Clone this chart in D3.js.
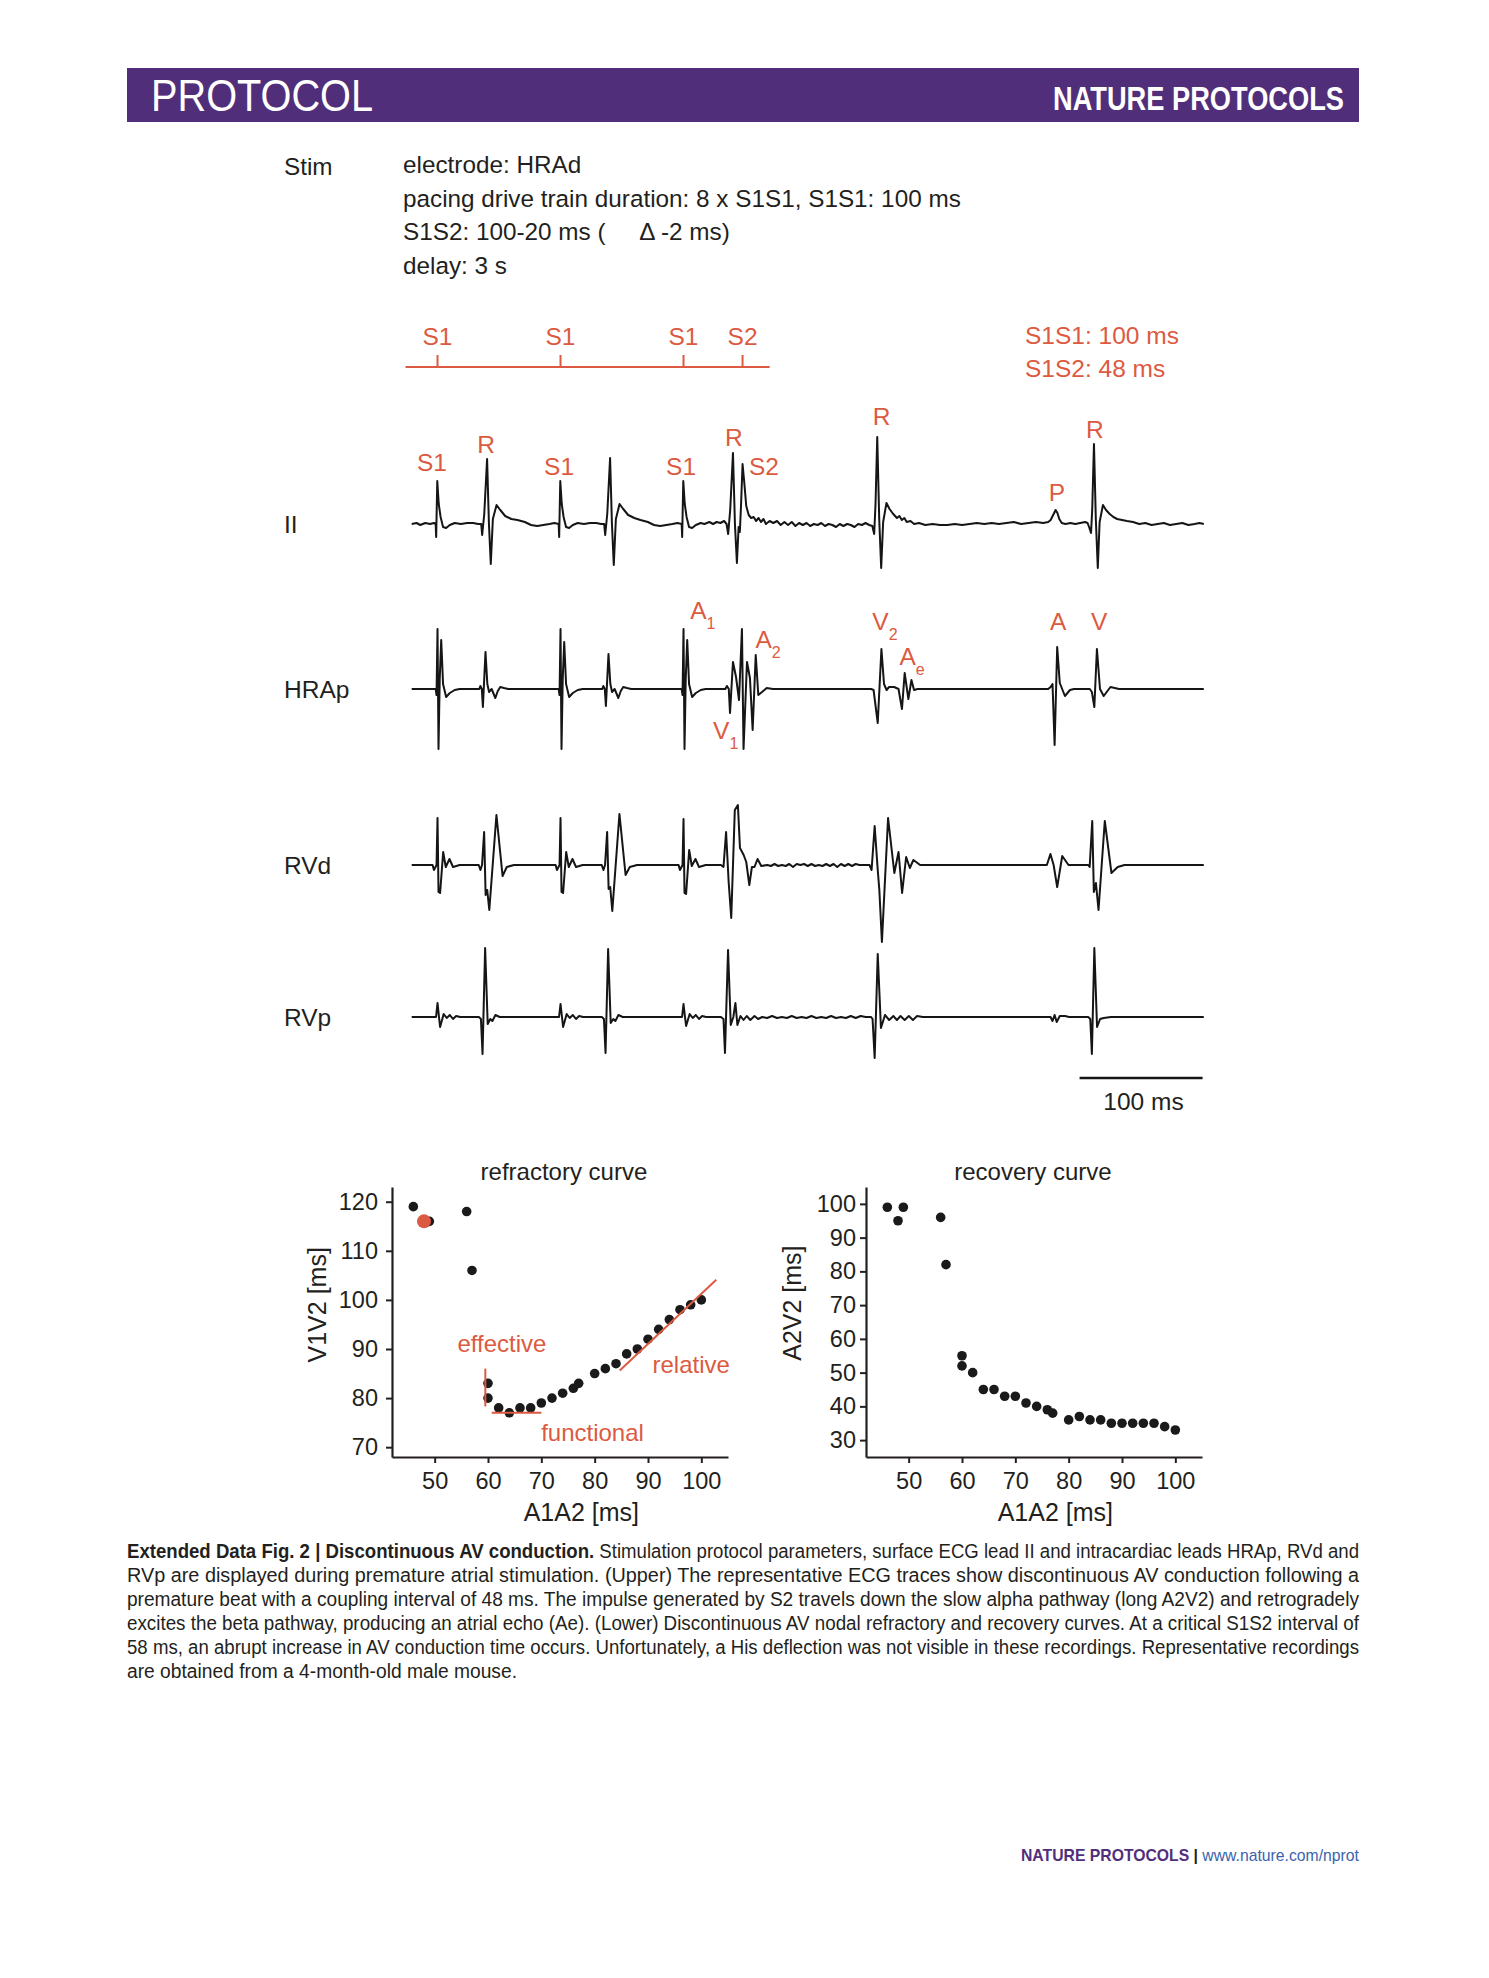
<!DOCTYPE html>
<html>
<head>
<meta charset="utf-8">
<script src="https://cdn.jsdelivr.net/npm/d3@7"></script>
<style>
  body { margin: 0; background: #fff; }
  svg text { font-family: "Liberation Sans", Arial, sans-serif; fill: #231f20; }
</style>
</head>
<body>
<div id="fig"></div>
<script>
// ---------- data ----------
// traces: [time ms, amplitude mV]
var leadII = [
  [3,0.00],[7,0.01],[10,-0.01],[14,0.01],[18,0.00],[21,0.01],[22.5,0.00],[22.9,-0.13],[23.8,0.43],[25,0.20],[26.5,0.07],[28.5,-0.03],[31,-0.04],[34,-0.01],[38,0.01],[43,0.00],[48,0.01],[53,0.01],[57,0.00],
  [59.5,0.00],[60.3,-0.11],[62,0.10],[64.3,0.65],[65.8,0.00],[67.3,-0.40],[69,0.05],[72,0.19],[75,0.14],[79,0.08],[84,0.05],[89,0.04],[95,0.02],[100,-0.01],[105,-0.02],[110,-0.01],[115,0.00],[119,0.01],
  [122.5,0.00],[122.9,-0.13],[123.8,0.43],[125,0.20],[126.5,0.07],[128.5,-0.03],[131,-0.04],[134,-0.01],[138,0.01],[143,0.00],[148,0.01],[153,0.01],[157,0.00],
  [159.5,0.00],[160.3,-0.11],[162,0.10],[164.3,0.66],[165.8,0.00],[167.3,-0.41],[169,0.05],[172,0.20],[175,0.15],[179,0.09],[184,0.06],[189,0.04],[195,0.02],[200,-0.01],[205,-0.02],[210,-0.01],[215,0.00],[219,0.01],
  [222.5,0.00],[222.9,-0.13],[223.8,0.43],[225,0.20],[226.5,0.07],[228.5,-0.03],[231,-0.04],[234,-0.01],[238,0.01],[241,0.00],[245,0.02],[248,0.00],[251,0.02],[254,0.01],[257,0.03],[259,0.00],
  [260.3,-0.10],[262,0.15],[264.2,0.71],[265.8,0.00],[267.4,-0.39],[268.8,-0.03],[269.8,-0.08],[270.8,0.20],[272,0.60],[273.5,0.40],[275,0.18],[277,0.09],[279,0.06],[281,0.07],[283,0.03],[285,0.06],[287,0.02],[289,0.05],
  [291,0.00],[294,0.03],[297,0.01],[300,0.03],[303,-0.01],[306,0.02],[309,-0.01],[312,0.02],[315,-0.02],[318,0.01],[321,-0.01],[324,0.01],[327,-0.02],[330,0.00],[333,-0.01],[336,0.01],[339,-0.02],[342,0.00],
  [345,-0.01],[348,-0.03],[351,0.00],[354,-0.02],[357,0.00],[360,-0.01],[363,-0.03],[366,0.00],[369,-0.01],[372,0.01],[375,-0.01],
  [377.5,-0.02],[379,-0.10],[380.1,0.20],[381.5,0.87],[383.1,0.05],[384.7,-0.44],[386.3,0.02],[389,0.21],[391.5,0.15],[394.5,0.10],[397.5,0.06],[399.5,0.08],[401.5,0.04],[403.5,0.06],[405.5,0.02],[408.5,0.03],[411.5,0.00],[415.5,0.01],
  [420.5,-0.01],[426.5,0.00],[432.5,-0.01],[438.5,-0.01],[444.5,0.00],[450.5,-0.01],[456.5,0.00],[462.5,0.01],[468.5,0.00],[474.5,0.01],[480.5,0.00],[486.5,0.01],[492.5,0.02],[498.5,0.00],[504.5,0.01],[510.5,0.02],[516.5,0.01],[520.5,0.02],
  [522.5,0.04],[524.5,0.09],[526.5,0.14],[528,0.11],[529.5,0.05],[531.5,0.01],[534.5,0.00],[538.5,0.01],[542.5,0.00],[546.5,0.01],[550.5,0.02],[552.5,0.01],
  [554,-0.04],[555.3,-0.09],[556.3,0.15],[557.7,0.80],[559.2,0.05],[560.8,-0.44],[562.3,0.02],[565,0.19],[567.5,0.14],[570.5,0.10],[573.5,0.07],[576.5,0.05],[580.5,0.04],[584.5,0.03],[589.5,0.02],
  [594.5,0.00],[599.5,0.01],[604.5,-0.01],[609.5,0.00],[614.5,0.01],[619.5,-0.01],[624.5,0.00],[629.5,0.01],[634.5,-0.01],[639.5,0.00],[643.5,0.01],[647,0.00]
];

var hrap = [
  [3,0],[22.5,0],[23.2,-0.06],[24,0.60],[24.8,-0.60],[25.8,0.10],[27,0.49],[28.5,0.05],[31,-0.08],[34,-0.04],[38,-0.01],[42,0],
  [58,0],[58.8,0.03],[60,0],[60.9,-0.18],[63,0.37],[64.5,0.05],[65.9,-0.03],[68,0],[71,-0.09],[73,-0.02],[75,0.02],[78,0.01],[81.5,0],
  [122.5,0],[123.2,-0.06],[124,0.60],[124.8,-0.60],[125.8,0.10],[127,0.47],[128.5,0.05],[131,-0.08],[134,-0.04],[138,-0.01],[142,0],
  [158,0],[158.8,0.03],[160,0],[160.9,-0.17],[163,0.35],[164.5,0.05],[165.9,-0.03],[168,0],[171,-0.09],[173,-0.02],[175,0.02],[178,0.01],[181.5,0],
  [222.5,0],[223.2,-0.06],[224,0.60],[224.8,-0.60],[225.8,0.10],[227,0.49],[228.5,0.05],[231,-0.08],[234,-0.04],[238,-0.01],[242,0],
  [258,0],[259.3,0.03],[260.8,0.00],[261.8,-0.24],[264.2,0.27],[266.7,0.12],[269.1,-0.11],[271.5,0.60],[272.8,-0.60],[275.6,0.27],[278,0.11],[280.2,-0.41],[282.7,0.34],[284.8,-0.06],[287.8,-0.03],[291.6,0.01],[296.7,0],
  [376.5,0],[378.5,-0.01],[381.9,-0.34],[384.9,0.40],[387,0.05],[389.1,-0.01],[391.1,0.02],[395.2,0.02],[398.8,0],[401.6,-0.20],[403.8,0.16],[406.8,-0.10],[409.3,0.09],[411.4,-0.01],[414.3,0],
  [520.5,0],[522.4,0.02],[524,0.05],[525.7,-0.56],[527.8,0.42],[529.9,0.06],[534.1,-0.07],[538.2,-0.01],[541.5,0],
  [553,0],[554.3,0],[556,-0.03],[558,-0.18],[560.1,0.40],[562.6,0],[565.6,-0.07],[571.1,0.02],[578.1,0],[647,0]
];

var rvd = [
  [3,0],[20,0],[21.1,-0.05],[23.2,0],[24,0.47],[24.8,-0.27],[26.1,-0.28],[28.6,0.13],[30.7,-0.02],[33.7,0.06],[36.6,-0.02],[42,0],
  [57.5,0],[58.9,-0.05],[60.2,0],[61.9,0.33],[63.1,-0.30],[64.4,-0.25],[66.1,-0.45],[71.9,0.50],[76.9,-0.11],[80.3,-0.02],[86.2,0],
  [120,0],[121.1,-0.05],[123.2,0],[124,0.47],[124.8,-0.27],[126.1,-0.28],[128.6,0.13],[130.7,-0.02],[133.7,0.06],[136.6,-0.02],[142,0],
  [157.5,0],[158.9,-0.05],[160.2,0],[161.9,0.33],[163.1,-0.24],[164.4,-0.22],[166.1,-0.46],[171.9,0.51],[176.9,-0.10],[180.3,-0.02],[186.2,0],
  [220,0],[221.1,-0.05],[223.2,0],[224,0.46],[224.8,-0.28],[226.1,-0.29],[228.6,0.15],[230.7,-0.01],[233.7,0.06],[236.6,-0.02],[242,0],
  [254.4,0],[256.5,-0.02],[258.6,0.33],[260.7,-0.17],[262.8,-0.53],[265.7,0.55],[268.2,0.60],[269.9,0.17],[272.9,0.10],[275,0.03],[277.5,-0.20],[279.6,-0.02],[281.7,-0.02],[284.2,0.06],[287.2,-0.01],[292.2,0],
  [295,-0.01],[298,0.01],[301,-0.01],[304,0.00],[307,-0.01],[310,0.01],[313,-0.02],[316,0.01],[319,0.00],[322,0.01],[325,-0.01],[328,0.01],[331,-0.01],[334,0.00],[337,-0.01],[340,0.01],[343,-0.01],[346,0.01],
  [349,-0.02],[352,0.01],[355,-0.01],[358,0.01],[361,-0.01],[364,0.01],[367,0],[375.2,0],
  [376.9,-0.05],[379.4,0.39],[381.9,-0.05],[383.2,-0.25],[385.3,-0.77],[390.3,0.47],[395.4,-0.08],[398.8,0.13],[401.7,-0.28],[405,0.08],[408,-0.03],[410.9,0.05],[416.4,0],
  [519.4,0],[522.3,0.11],[524.9,0],[527.8,-0.22],[531.9,0.09],[537,0],
  [553,0],[554.2,-0.02],[556.3,0.44],[557.6,-0.27],[559.3,-0.18],[561.4,-0.45],[566.5,0.44],[571.9,-0.08],[577,-0.02],[582.5,0],[647,0]
];

var rvp = [
  [3,0],[22.8,0],[24,0.14],[25.2,0],[26.1,-0.10],[29,0.03],[31.5,-0.01],[34,0.02],[36.6,-0.02],[39.1,0.01],[42.4,0],
  [57.6,0],[59.3,-0.02],[60.6,-0.37],[62.7,0.69],[64.8,-0.07],[66.9,-0.02],[68.6,-0.04],[71.1,0.02],[74.5,0],
  [122.8,0],[124,0.13],[125.2,0],[126.1,-0.10],[129,0.03],[131.5,-0.01],[134,0.02],[136.6,-0.02],[139.1,0.01],[142.4,0],
  [157.6,0],[159.3,-0.02],[160.6,-0.36],[162.7,0.68],[164.8,-0.06],[166.9,-0.02],[168.6,-0.04],[171.1,0.02],[174.5,0],
  [222.8,0],[224,0.13],[225.2,0],[226.1,-0.09],[229,0.03],[231.5,-0.01],[234,0.02],[236.6,-0.02],[239.1,0.01],[242.4,0],
  [254.4,0],[256.5,-0.02],[257.7,-0.36],[260.2,0.67],[262.4,-0.08],[264.5,0],[266.2,0.14],[267.8,-0.08],[270.3,0.01],[272.8,-0.03],[275.4,0.01],[278.3,-0.03],[281.7,0.01],[284.6,-0.02],[288,0],
  [292,-0.01],[296,0.01],[300,-0.01],[304,0.00],[308,-0.01],[312,0.01],[316,-0.01],[320,0.00],[324,-0.01],[328,0.01],[332,-0.01],[336,0.00],[340,-0.01],[344,0.01],[348,-0.01],[352,0.00],[356,-0.01],[360,0.01],
  [364,-0.01],[368,0.01],[372,0],[376.5,0],
  [377.7,-0.02],[379.4,-0.41],[381.9,0.63],[384.5,-0.11],[387.8,0.02],[391.2,-0.03],[394.6,0.01],[397.5,-0.03],[400.4,0.01],[403.8,-0.03],[407.2,0.01],[410.5,-0.03],[413.9,0.01],[418.5,0],
  [522.4,0],[524,-0.04],[525.7,0.02],[527.4,-0.05],[529.9,0.01],[534.1,0.01],[537.5,0],
  [553,0],[554.7,-0.02],[556,-0.37],[558,0.69],[560.2,-0.10],[562.7,-0.02],[565.6,-0.01],[571.5,0],[647,0]
];

// stimulation protocol
var stimTimes = [24, 124, 224, 272];
var stimNames = ['S1', 'S1', 'S1', 'S2'];
var stimLines = ['electrode: HRAd',
  'pacing drive train duration: 8 x S1S1, S1S1: 100 ms',
  'S1S2: 100-20 ms (     \u0394 -2 ms)',
  'delay: 3 s'];

// refractory curve: A1A2 vs V1V2
var refA1A2 = [46, 49, 56, 57, 60, 60, 62, 64, 66, 68, 70, 72, 74, 76, 77, 80, 82, 84, 86, 88, 90, 92, 94, 96, 98, 100];
var refV1V2 = [119, 116, 118, 106, 83, 80, 78, 77, 78, 78, 79, 80, 81, 82, 83, 85, 86, 87, 89, 90, 92, 94, 96, 98, 99, 100];
var refHighlight = [48, 116];
// recovery curve: A1A2 vs A2V2
var recA1A2 = [46, 48, 49, 56, 57, 60, 60, 62, 64, 66, 68, 70, 72, 74, 76, 77, 80, 82, 84, 86, 88, 90, 92, 94, 96, 98, 100];
var recA2V2 = [99, 95, 99, 96, 82, 55, 52, 50, 45, 45, 43, 43, 41, 40, 39, 38, 36, 37, 36, 36, 35, 35, 35, 35, 35, 34, 33];
var ticksX = [50, 60, 70, 80, 90, 100];
var ticksRefY = [70, 80, 90, 100, 110, 120];
var ticksRecY = [30, 40, 50, 60, 70, 80, 90, 100];

var captionLines = [
  'RVp are displayed during premature atrial stimulation. (Upper) The representative ECG traces show discontinuous AV conduction following a',
  'premature beat with a coupling interval of 48 ms. The impulse generated by S2 travels down the slow alpha pathway (long A2V2) and retrogradely',
  'excites the beta pathway, producing an atrial echo (Ae). (Lower) Discontinuous AV nodal refractory and recovery curves. At a critical S1S2 interval of',
  '58 ms, an abrupt increase in AV conduction time occurs. Unfortunately, a His deflection was not visible in these recordings. Representative recordings',
  'are obtained from a 4-month-old male mouse.'
];

// ---------- drawing ----------
var width = 1489, height = 1978;
var red = '#dc5a41', ink = '#231f20', purple = '#512e7a';

var svg = d3.select('#fig').append('svg')
  .attr('width', width)
  .attr('height', height);

svg.append('rect').attr('width', width).attr('height', height).attr('fill', '#fff');

// header band
svg.append('rect')
  .attr('x', 127).attr('y', 68)
  .attr('width', 1232).attr('height', 54)
  .attr('fill', purple);

svg.append('text')
  .attr('x', 151).attr('y', 111)
  .attr('textLength', 222).attr('lengthAdjust', 'spacingAndGlyphs')
  .style('font-size', '44px').style('fill', '#fff')
  .text('PROTOCOL');

svg.append('text')
  .attr('x', 1053).attr('y', 110)
  .attr('textLength', 291).attr('lengthAdjust', 'spacingAndGlyphs')
  .style('font-size', '33px').style('font-weight', 'bold').style('fill', '#fff')
  .text('NATURE PROTOCOLS');

// stimulation parameters
svg.append('text')
  .attr('x', 284).attr('y', 175)
  .style('font-size', '24.3px')
  .text('Stim');

svg.selectAll('.stim-line')
  .data(stimLines)
  .enter()
  .append('text')
  .attr('class', 'stim-line')
  .attr('x', 403)
  .attr('y', (d, i) => 173 + i * 33.5)
  .style('font-size', '24.3px')
  .style('white-space', 'pre')
  .attr('xml:space', 'preserve')
  .text(d => d);

// time scale shared by all traces
var xTime = d3.scaleLinear()
  .domain([0, 640])
  .range([408, 408 + 640 * 1.23]);

// protocol bar
var protoG = svg.append('g').attr('class', 'protocol');
protoG.append('line')
  .attr('x1', xTime(-2)).attr('x2', xTime(294))
  .attr('y1', 367).attr('y2', 367)
  .attr('stroke', red).attr('stroke-width', 2.2);
protoG.selectAll('.tick')
  .data(stimTimes)
  .enter()
  .append('line')
  .attr('x1', d => xTime(d)).attr('x2', d => xTime(d))
  .attr('y1', 355).attr('y2', 367)
  .attr('stroke', red).attr('stroke-width', 2);
protoG.selectAll('text')
  .data(stimTimes)
  .enter()
  .append('text')
  .attr('x', d => xTime(d))
  .attr('y', 345)
  .attr('text-anchor', 'middle')
  .style('font-size', '24.5px').style('fill', red)
  .text((d, i) => stimNames[i]);

svg.append('text').attr('x', 1025).attr('y', 344)
  .style('font-size', '24.5px').style('fill', red).text('S1S1: 100 ms');
svg.append('text').attr('x', 1025).attr('y', 377)
  .style('font-size', '24.5px').style('fill', red).text('S1S2: 48 ms');

// traces
var channels = [
  { name: 'II', data: leadII, base: 524 },
  { name: 'HRAp', data: hrap, base: 689 },
  { name: 'RVd', data: rvd, base: 865 },
  { name: 'RVp', data: rvp, base: 1017 }
];

channels.forEach(function(ch) {
  var yScale = d3.scaleLinear()
    .domain([-1, 1])
    .range([ch.base + 100, ch.base - 100]);

  var trace = d3.line()
    .x(d => xTime(d[0]))
    .y(d => yScale(d[1]));

  svg.append('path')
    .datum(ch.data)
    .attr('class', 'line ' + ch.name)
    .attr('d', trace)
    .attr('fill', 'none')
    .attr('stroke', '#151515')
    .attr('stroke-width', 2)
    .attr('stroke-linejoin', 'round');

  svg.append('text')
    .attr('x', 284).attr('y', ch.base + 9)
    .style('font-size', '24.5px')
    .text(ch.name);
});

// red labels on the traces  [text, subscript, time ms, y px]
var traceLabels = [
  ['S1', '', 19.5, 471], ['R', '', 63.4, 453], ['S1', '', 122.8, 475], ['S1', '', 222, 475],
  ['R', '', 265, 446], ['S2', '', 289.4, 475], ['R', '', 385, 425], ['P', '', 527.5, 501], ['R', '', 558.5, 438],
  ['A', '1', 236, 619], ['A', '2', 289, 648], ['V', '1', 254.5, 739],
  ['V', '2', 384, 630], ['A', 'e', 406, 665], ['A', '', 528.5, 630], ['V', '', 562, 630]
];

var labelsG = svg.append('g').attr('class', 'trace-labels');
traceLabels.forEach(function(l) {
  var t = labelsG.append('text')
    .attr('x', xTime(l[2]))
    .attr('y', l[3])
    .attr('text-anchor', l[1] ? 'start' : 'middle')
    .style('font-size', '24.5px').style('fill', red);
  if (l[1]) t.attr('dx', -8);
  t.append('tspan').text(l[0]);
  if (l[1]) {
    t.append('tspan').attr('dy', 10).style('font-size', '16px').text(l[1]);
  }
});

// time scale bar (100 ms)
svg.append('line')
  .attr('x1', xTime(546)).attr('x2', xTime(646))
  .attr('y1', 1078).attr('y2', 1078)
  .attr('stroke', '#151515').attr('stroke-width', 2.5);
svg.append('text')
  .attr('x', xTime(598)).attr('y', 1110)
  .attr('text-anchor', 'middle')
  .style('font-size', '24.5px')
  .text('100 ms');

// scatter plots
function scatter(opts) {
  var g = svg.append('g').attr('class', 'scatter');
  var xScale = d3.scaleLinear().domain([42, 105]).range([opts.left, opts.left + 336]);
  var yScale = d3.scaleLinear().domain(opts.yDomain).range([1457, 1187]);

  var xAxis = d3.axisBottom(xScale)
    .tickValues(ticksX)
    .tickSize(6).tickSizeOuter(0).tickPadding(9);
  var yAxis = d3.axisLeft(yScale)
    .tickValues(opts.yTicks)
    .tickSize(6).tickSizeOuter(0).tickPadding(opts.yPad);

  var gx = g.append('g')
    .attr('transform', 'translate(0,1457)')
    .call(xAxis);
  var gy = g.append('g')
    .attr('transform', `translate(${opts.left},0)`)
    .call(yAxis);

  [gx, gy].forEach(function(a) {
    a.select('.domain').attr('stroke', ink).attr('stroke-width', 2.2);
    a.selectAll('.tick line').attr('stroke', ink).attr('stroke-width', 2);
    a.selectAll('.tick text')
      .style('font-family', '"Liberation Sans", Arial, sans-serif')
      .style('font-size', '23.5px')
      .attr('fill', ink);
  });

  g.append('text')
    .attr('x', xScale(73.3) + opts.titleDx).attr('y', 1180)
    .attr('text-anchor', 'middle')
    .style('font-size', '24px')
    .text(opts.title);

  g.append('text')
    .attr('x', xScale(77.5)).attr('y', 1521)
    .attr('text-anchor', 'middle')
    .style('font-size', '25px')
    .text('A1A2 [ms]');

  g.append('text')
    .attr('transform', `translate(${opts.labelX},${yScale(opts.labelAt)}) rotate(-90)`)
    .attr('text-anchor', 'middle')
    .style('font-size', '25px')
    .text(opts.yLabel);

  g.selectAll('.dot')
    .data(opts.xs)
    .enter()
    .append('circle')
    .attr('class', 'dot')
    .attr('cx', d => xScale(d))
    .attr('cy', (d, i) => yScale(opts.ys[i]))
    .attr('r', 4.8)
    .attr('fill', '#1a1a1a');

  return { g: g, x: xScale, y: yScale };
}

var refr = scatter({
  left: 392, yDomain: [68, 123], yTicks: ticksRefY, yPad: 8, titleDx: 5,
  title: 'refractory curve', yLabel: 'V1V2 [ms]', labelX: 326, labelAt: 99,
  xs: refA1A2, ys: refV1V2
});

var reco = scatter({
  left: 866, yDomain: [25, 105], yTicks: ticksRecY, yPad: 4, titleDx: 0,
  title: 'recovery curve', yLabel: 'A2V2 [ms]', labelX: 801, labelAt: 70.6,
  xs: recA1A2, ys: recA2V2
});

// highlighted point and refractory annotations
refr.g.append('circle')
  .attr('cx', refr.x(refHighlight[0])).attr('cy', refr.y(refHighlight[1]))
  .attr('r', 7).attr('fill', red);

var annot = [
  [[59.5, 86], [59.5, 78.3]],
  [[60.7, 77], [70, 77]],
  [[84.7, 85.6], [102.8, 104.1]]
];
refr.g.selectAll('.annot')
  .data(annot)
  .enter()
  .append('line')
  .attr('class', 'annot')
  .attr('x1', d => refr.x(d[0][0])).attr('y1', d => refr.y(d[0][1]))
  .attr('x2', d => refr.x(d[1][0])).attr('y2', d => refr.y(d[1][1]))
  .attr('stroke', red).attr('stroke-width', 2);

var annotText = [['effective', 62.6, 89.4], ['functional', 79.6, 71.2], ['relative', 98.1, 85.1]];
refr.g.selectAll('.annot-text')
  .data(annotText)
  .enter()
  .append('text')
  .attr('x', d => refr.x(d[1])).attr('y', d => refr.y(d[2]))
  .attr('text-anchor', 'middle')
  .style('font-size', '24px').style('fill', red)
  .text(d => d[0]);

// caption, justified line by line (narrow face)
var capG = svg.append('g').attr('class', 'caption');
var first = capG.append('text')
  .attr('x', 127).attr('y', 1558)
  .attr('textLength', 1232).attr('lengthAdjust', 'spacingAndGlyphs')
  .style('font-size', '20px');
first.append('tspan').style('font-weight', 'bold')
  .text('Extended Data Fig. 2 | Discontinuous AV conduction.');
first.append('tspan')
  .text(' Stimulation protocol parameters, surface ECG lead II and intracardiac leads HRAp, RVd and');

captionLines.forEach(function(line, i) {
  var last = i === captionLines.length - 1;
  capG.append('text')
    .attr('x', 127).attr('y', 1558 + (i + 1) * 24)
    .attr('textLength', last ? 390 : 1232).attr('lengthAdjust', 'spacingAndGlyphs')
    .style('font-size', '20px')
    .text(line);
});

// footer
var foot = svg.append('text')
  .attr('x', 1021).attr('y', 1861)
  .attr('textLength', 338).attr('lengthAdjust', 'spacingAndGlyphs')
  .style('font-size', '17px');
foot.append('tspan').style('font-weight', 'bold').style('fill', purple).text('NATURE PROTOCOLS');
foot.append('tspan').style('font-weight', 'bold').style('fill', ink).text(' | ');
foot.append('tspan').style('fill', '#3a64ad').text('www.nature.com/nprot');
</script>
</body>
</html>
